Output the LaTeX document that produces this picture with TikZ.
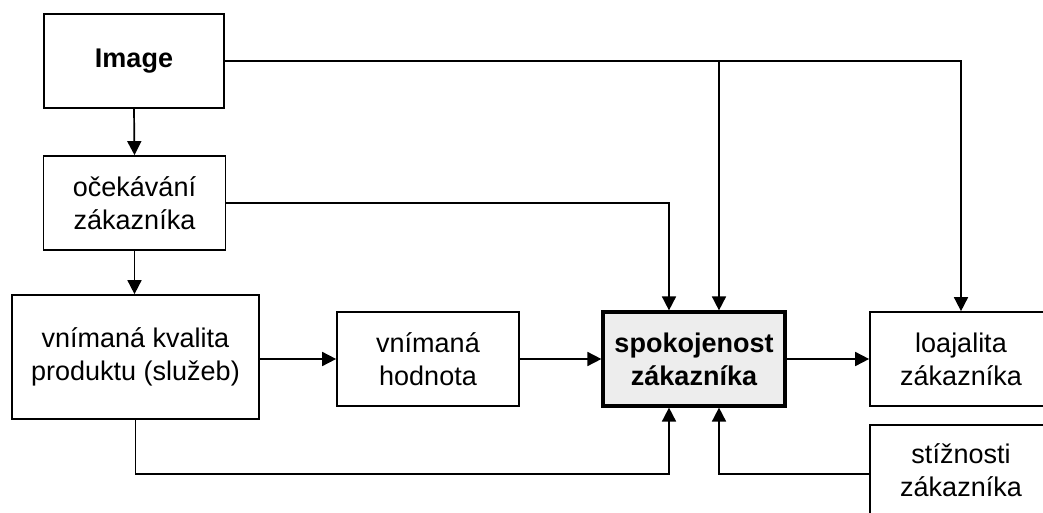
\documentclass[tikz,border=0pt]{standalone}
\usepackage{fontspec}
\setmainfont{Liberation Sans}
\usetikzlibrary{arrows.meta,calc}
\begin{document}
\begin{tikzpicture}[x=0.5pt,y=-0.5pt,
  box/.style={draw, line width=0.85pt, rectangle, align=center, inner sep=0pt,
    font=\fontsize{13.5}{16.5}\selectfont, minimum width=91pt, minimum height=47pt},
  boldbox/.style={box, font=\bfseries\fontsize{13.5}{16.5}\selectfont},
  conn/.style={line width=0.85pt, -{Triangle[width=7pt,length=7pt]}},
  ]
\useasboundingbox (0,0) rectangle (1043,513);
\clip (0,0) rectangle (1043,513);
\fill[white] (0,0) rectangle (1043,513);

\node[boldbox, minimum width=90pt] (img) at (134,61) {Image};
\node[box] (oc) at (134.5,203) {očekávání\\zákazníka};
\node[box, minimum width=123.5pt, minimum height=62pt] (kv) at (135.5,357) {vnímaná kvalita\\produktu (služeb)};
\node[box] (hod) at (428,359) {vnímaná\\hodnota};
\node[boldbox, fill=gray!14, line width=1.6pt] (spok) at (694,359) {spokojenost\\zákazníka};
\node[box] (loaj) at (961,359) {loajalita\\zákazníka};
\node[box, minimum height=45pt] (stiz) at (961,470) {stížnosti\\zákazníka};

\coordinate (t1) at ($(spok.north)+(-25,0)$);
\coordinate (t2) at ($(spok.north)+(25,0)$);
\coordinate (b1) at ($(spok.south)+(-25,0)$);
\coordinate (b2) at ($(spok.south)+(25,0)$);
\coordinate (low) at (0,474);

\draw[conn] (img.south) -- (oc.north);
\draw[conn] (oc.south) -- (oc.south |- kv.north);
\draw[conn] (kv.east |- hod.west) -- (hod.west);
\draw[conn] (hod) -- (spok);
\draw[conn] (spok) -- (loaj);
\draw[conn] (img.east) -| (loaj.north);
\draw[conn] (img.east -| t2) -- (t2);
\draw[conn] (oc.east) -| (t1);
\draw[conn] (kv.south) -- (kv.south |- low) -| (b1);
\draw[conn] (stiz.west |- low) -| (b2);
\end{tikzpicture}
\end{document}
